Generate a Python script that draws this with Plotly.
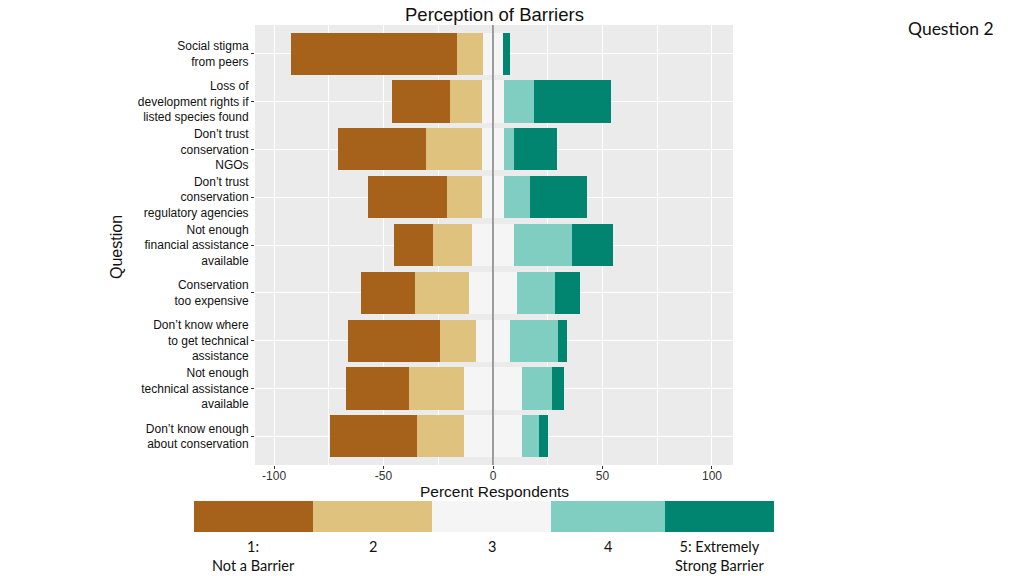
import plotly.graph_objects as go

questions = [
    "Social stigma<br>from peers",
    "Loss of<br>development rights if<br>listed species found",
    "Don’t trust<br>conservation<br>NGOs",
    "Don’t trust<br>conservation<br>regulatory agencies",
    "Not enough<br>financial assistance<br>available",
    "Conservation<br>too expensive",
    "Don’t know where<br>to get technical<br>assistance",
    "Not enough<br>technical assistance<br>available",
    "Don’t know enough<br>about conservation",
]
level1 = [75.8, 26.7, 40.2, 36.1, 17.7, 24.7, 41.7, 29.0, 39.7]
level2 = [11.9, 14.4, 25.4, 15.8, 17.8, 24.5, 16.6, 25.0, 21.6]
level3 = [8.7, 10.4, 10.4, 10.4, 19.2, 21.9, 15.5, 26.5, 26.2]
level4 = [0.0, 13.4, 4.6, 11.6, 26.3, 17.4, 21.9, 13.7, 8.1]
level5 = [3.2, 35.2, 19.2, 26.2, 19.0, 11.6, 4.3, 5.5, 4.1]

level_labels = ["1:<br>Not a Barrier", "2", "3", "4", "5: Extremely<br>Strong Barrier"]
colors = ["#a6611a", "#dfc27d", "#f5f5f5", "#80cdc1", "#018571"]
x_ticks = [-100, -50, 0, 50, 100]

W, H = 1024, 576


def px(x):
    return x / W


def py(y):
    return 1 - y / H


PL, PR, PT, PB = 255, 733, 25, 465
LEG_EDGES = [194, 313, 432, 551, 665, 774]
LEG_T, LEG_B = 501, 532

fig = go.Figure()
ypos = list(range(len(questions)))
BW = 0.88

left = [
    ([-v / 2 for v in level3], colors[2]),
    ([-v for v in level2], colors[1]),
    ([-v for v in level1], colors[0]),
]
right = [
    ([v / 2 for v in level3], colors[2]),
    (level4, colors[3]),
    (level5, colors[4]),
]
for vals, c in left + right:
    fig.add_trace(go.Bar(
        y=ypos, x=vals, orientation="h", width=BW,
        marker=dict(color=c, line=dict(width=0)),
        showlegend=False, xaxis="x", yaxis="y",
    ))

for i, c in enumerate(colors):
    fig.add_trace(go.Bar(
        y=[0], x=[LEG_EDGES[i + 1] - LEG_EDGES[i]], base=[LEG_EDGES[i]],
        orientation="h", width=1, marker=dict(color=c, line=dict(width=0)),
        showlegend=False, xaxis="x2", yaxis="y2",
    ))

font_main = "Liberation Sans, Arial, sans-serif"
font_leg = "Lato, Open Sans, sans-serif"

annotations = []
for i, lab in enumerate(level_labels):
    annotations.append(dict(
        x=(LEG_EDGES[i] + LEG_EDGES[i + 1]) / 2, y=py(536),
        xref="x2", yref="paper", text=lab, showarrow=False,
        xanchor="center", yanchor="top", align="center",
        font=dict(family=font_leg, size=14.5, color="#111111"),
    ))
annotations += [
    dict(x=px((PL + PR) / 2), y=py(14), xref="paper", yref="paper",
         text="Perception of Barriers", showarrow=False, xanchor="center", yanchor="middle",
         font=dict(family=font_main, size=18.5, color="#111111")),
    dict(x=px((PL + PR) / 2), y=py(491), xref="paper", yref="paper",
         text="Percent Respondents", showarrow=False, xanchor="center", yanchor="middle",
         font=dict(family=font_main, size=15.5, color="#111111")),
    dict(x=px(116), y=py(247), xref="paper", yref="paper",
         text="Question", showarrow=False, xanchor="center", yanchor="middle", textangle=-90,
         font=dict(family=font_main, size=16, color="#111111")),
    dict(x=px(951), y=py(29), xref="paper", yref="paper",
         text="Question 2", showarrow=False, xanchor="center", yanchor="middle",
         font=dict(family=font_leg, size=17.5, color="#111111")),
]

fig.update_layout(
    width=W, height=H,
    margin=dict(l=0, r=0, t=0, b=0),
    paper_bgcolor="white", plot_bgcolor="#ebebeb",
    barmode="relative", bargap=0,
    xaxis=dict(
        domain=[px(PL), px(PR)], range=[-108.7, 109.6],
        tickvals=x_ticks, ticktext=[str(v) for v in x_ticks],
        showgrid=True, gridcolor="white", gridwidth=1.3,
        minor=dict(dtick=25, tick0=-100, showgrid=True, gridcolor="white", gridwidth=0.8),
        zeroline=False, ticks="outside", ticklen=3, tickcolor="#333333",
        ticklabelstandoff=-3,
        tickfont=dict(family=font_main, size=12, color="#333333"),
        anchor="y", fixedrange=True,
    ),
    yaxis=dict(
        domain=[py(PB), py(PT)], range=[len(questions) - 0.4, -0.6],
        tickvals=ypos, ticktext=questions,
        showgrid=True, gridcolor="white", gridwidth=1.3, zeroline=False,
        ticks="outside", ticklen=3, tickcolor="#333333",
        tickfont=dict(family=font_main, size=12, color="#111111"),
        anchor="x", fixedrange=True,
    ),
    xaxis2=dict(domain=[px(LEG_EDGES[0]), px(LEG_EDGES[-1])], range=[LEG_EDGES[0], LEG_EDGES[-1]],
                visible=False, anchor="y2", fixedrange=True),
    yaxis2=dict(domain=[py(LEG_B), py(LEG_T)], range=[-0.5, 0.5], visible=False,
                anchor="x2", fixedrange=True),
    annotations=annotations,
    shapes=[dict(type="line", xref="x", yref="y domain", x0=0, x1=0, y0=0, y1=1,
                 line=dict(color="#444444", width=1), layer="above")],
)

fig.write_html(
    "out.html",
    config={"displayModeBar": False},
    post_script="document.body.style.margin='0';document.body.style.overflow='hidden';",
)
